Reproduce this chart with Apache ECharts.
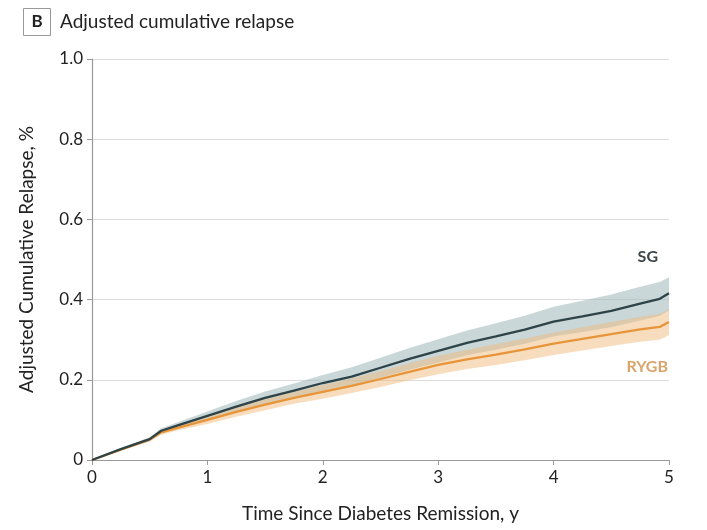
<!DOCTYPE html>
<html>
<head>
<meta charset="utf-8">
<script src="https://cdn.jsdelivr.net/npm/echarts@6/dist/echarts.min.js"></script>
<style>html,body{margin:0;padding:0;background:#fff;}#c{width:707px;height:530px;}</style>
</head>
<body>
<div id="c"></div>
<script>
const years = [0,0.25,0.5,0.6,0.75,1,1.25,1.5,1.75,2,2.25,2.5,2.75,3,3.25,3.5,3.75,4,4.25,4.5,4.75,4.92,5];
const sgEst    = [0,0.027,0.052,0.073,0.087,0.11,0.133,0.155,0.173,0.192,0.208,0.23,0.252,0.272,0.292,0.308,0.325,0.345,0.358,0.372,0.39,0.402,0.416];
const sgUpper  = [0,0.03,0.057,0.079,0.095,0.121,0.147,0.171,0.191,0.212,0.231,0.255,0.279,0.301,0.323,0.341,0.36,0.382,0.397,0.413,0.432,0.444,0.456];
const sgLower  = [0,0.024,0.047,0.067,0.079,0.099,0.119,0.139,0.155,0.172,0.186,0.205,0.225,0.243,0.261,0.275,0.29,0.308,0.319,0.331,0.348,0.36,0.373];
const rygbEst   = [0,0.026,0.051,0.069,0.081,0.1,0.12,0.138,0.155,0.17,0.185,0.202,0.22,0.237,0.251,0.263,0.276,0.29,0.302,0.314,0.326,0.332,0.344];
const rygbUpper = [0,0.028,0.056,0.075,0.088,0.11,0.132,0.152,0.17,0.187,0.203,0.222,0.241,0.26,0.275,0.289,0.303,0.318,0.331,0.344,0.357,0.364,0.376];
const rygbLower = [0,0.024,0.046,0.063,0.074,0.09,0.108,0.124,0.14,0.153,0.167,0.182,0.199,0.214,0.227,0.237,0.249,0.262,0.273,0.284,0.295,0.3,0.311];
const xTicks = [0,1,2,3,4,5];
const yTicks = [0,0.2,0.4,0.6,0.8,1.0];

const FONT = 'Lato';
const chart = echarts.init(document.getElementById('c'));

function bandSeries(upper, lower, color, z) {
  return {
    type: 'custom',
    z: z,
    silent: true,
    data: [0],
    renderItem: function (params, api) {
      const pts = [];
      for (let i = 0; i < years.length; i++) pts.push(api.coord([years[i], upper[i]]));
      for (let i = years.length - 1; i >= 0; i--) pts.push(api.coord([years[i], lower[i]]));
      return { type: 'polygon', shape: { points: pts }, style: { fill: color } };
    }
  };
}

chart.setOption({
  animation: false,
  grid: { left: 92, right: 38, top: 59, bottom: 70 },
  xAxis: {
    type: 'value', min: 0, max: 5, interval: 1,
    name: 'Time Since Diabetes Remission, y',
    nameLocation: 'middle', nameGap: 44,
    nameTextStyle: { fontFamily: FONT, fontSize: 19, color: '#222' },
    axisLine: { lineStyle: { color: '#999', width: 1.2 } },
    axisTick: { show: true, length: 5, lineStyle: { color: '#999' } },
    axisLabel: { fontFamily: FONT, fontSize: 17, color: '#222', margin: 9,
      formatter: v => xTicks.includes(v) ? String(v) : '' },
    splitLine: { show: false }
  },
  yAxis: {
    type: 'value', min: 0, max: 1, interval: 0.2,
    name: 'Adjusted Cumulative Relapse, %',
    nameLocation: 'middle', nameGap: 56,
    nameTextStyle: { fontFamily: FONT, fontSize: 19, color: '#222' },
    axisLine: { show: true, lineStyle: { color: '#999', width: 1.2 } },
    axisTick: { show: true, length: 5, lineStyle: { color: '#999' } },
    axisLabel: { fontFamily: FONT, fontSize: 17, color: '#222', margin: 9,
      formatter: v => { const t = yTicks.find(t => Math.abs(t - v) < 1e-9); return t === undefined ? '' : (t === 0 ? '0' : t.toFixed(1)); } },
    splitLine: { show: true, lineStyle: { color: '#dcdcdc', width: 1.2 } }
  },
  graphic: [
    { type: 'rect', shape: { x: 23.5, y: 8.5, width: 27, height: 27 }, style: { fill: '#fff', stroke: '#999', lineWidth: 1 } },
    { type: 'text', x: 37, y: 22, style: { text: 'B', fontFamily: FONT, fontWeight: 'bold', fontSize: 17, fill: '#222', align: 'center', verticalAlign: 'middle' } },
    { type: 'text', x: 60, y: 22, style: { text: 'Adjusted cumulative relapse', fontFamily: FONT, fontSize: 19, fill: '#222', verticalAlign: 'middle' } },
    { type: 'text', x: 658, y: 257, style: { text: 'SG', fontFamily: FONT, fontWeight: 'bold', fontSize: 16, fill: '#3b474b', align: 'right', verticalAlign: 'middle' } },
    { type: 'text', x: 668, y: 367, style: { text: 'RYGB', fontFamily: FONT, fontWeight: 'bold', fontSize: 16, fill: '#d9a46a', align: 'right', verticalAlign: 'middle' } }
  ],
  series: [
    bandSeries(sgUpper, sgLower, 'rgba(165,188,192,0.6)', 1),
    bandSeries(rygbUpper, rygbLower, 'rgba(240,188,125,0.5)', 2),
    {
      type: 'line', z: 4, symbol: 'none', silent: true,
      data: years.map((x, i) => [x, rygbEst[i]]),
      lineStyle: { color: '#e8953a', width: 2.3 }
    },
    {
      type: 'line', z: 5, symbol: 'none', silent: true,
      data: years.map((x, i) => [x, sgEst[i]]),
      lineStyle: { color: '#2e4347', width: 2.3 }
    }
  ]
});
</script>
</body>
</html>
